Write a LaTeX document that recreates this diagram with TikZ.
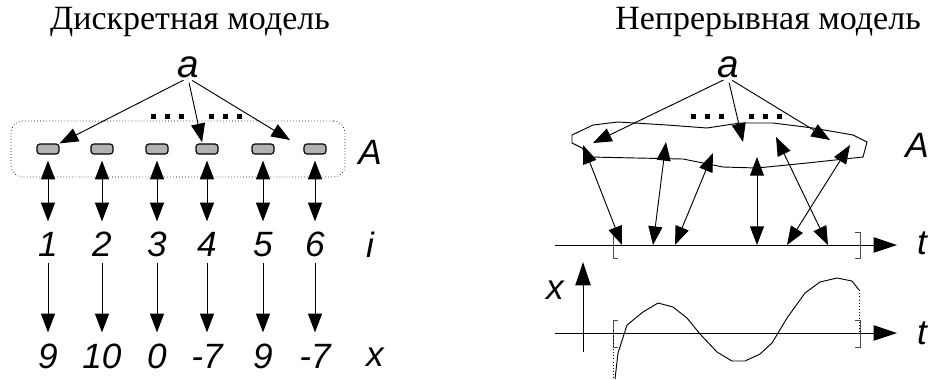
\documentclass[tikz,border=0pt]{standalone}
\usepackage{fontspec}
\setmainfont{Liberation Serif}
\setsansfont{Liberation Sans}
\usetikzlibrary{arrows.meta}

\begin{document}
\begin{tikzpicture}[
        x=0.03cm, y=-0.03cm,
        line width=0.8pt,
        title/.style={font=\fontsize{29}{29}\selectfont},
        lbl/.style={font=\fontsize{30}{30}\selectfont\sffamily\itshape, inner sep=0pt},
        num/.style={lbl, text height=21.5pt, text depth=0pt, anchor=base},
        pill/.style={draw, fill=gray!60, rounded corners=2.5pt, minimum width=0.66cm, minimum height=0.3cm, inner sep=0pt, line width=1pt},
        arr/.style={-{Triangle[length=5.6mm, width=4.2mm]}},
        dbl/.style={{Triangle[length=5.6mm, width=4.2mm]}-{Triangle[length=5.6mm, width=4.2mm]}},
        axis/.style={-{Triangle[length=7mm, width=4.6mm]}},
        brk/.style={line width=0.6pt, gray!60!black},
    ]

    \useasboundingbox (0,0) rectangle (932,379);

    %% Titles
    \node[title] (tdisc) at (190,22) {Дискретная модель};
    \node[title] (tcont) at (768,22) {Непрерывная модель};

    %% Discrete model
    \node[lbl, font=\fontsize{33}{33}\selectfont\sffamily\itshape, anchor=base] (aL) at (188,77) {a};
    \node[draw, dotted, rounded corners=10pt, minimum width=10.02cm, minimum height=1.68cm, line width=0.6pt] (setA) at (178,149) {};
    \node[lbl] (AL) at (370,152) {A};
    \node[lbl] (iL) at (370,245) {i};
    \node[lbl] (xL) at (375,357) {x};

    \foreach \n/\px/\v in {1/48/9, 2/102/10, 3/157/0, 4/207/-7, 5/263/9, 6/315/-7} {
        \node[pill] (p\n) at (\px,149) {};
        \node[num] (i\n) at (\px,256) {\n};
        \node[num] (v\n) at (\px,368) {\v};
        \draw[dbl, shorten <=0.18cm, shorten >=0.27cm] (p\n) -- (i\n);
        \draw[arr, shorten <=0.21cm, shorten >=0.3cm] (i\n) -- (v\n);
    }

    \coordinate (aLt) at (290,140);
    \draw[arr, shorten <=0.15cm] (aL.south) -- (p1.north east);
    \draw[arr, shorten <=0.15cm, shorten >=1pt] (aL.south) -- ([xshift=-4]p4.north);
    \draw[arr, shorten <=0.15cm] (aL.south) -- (aLt);
    \foreach \dx in {153,167,181,211,225,239}
        \fill (\dx-2.5,113.5) rectangle ++(5,5);

    %% Continuous model
    \node[lbl, font=\fontsize{33}{33}\selectfont\sffamily\itshape, anchor=base] (aR) at (728,77) {a};
    \node[lbl] (AR) at (917,145) {A};
    \draw (572,135) -- (593,125) -- (618,122) -- (667,125) -- (707,128) -- (740,123) -- (773,123)
        -- (813,128) -- (853,135) -- (867,142) -- (863,157) -- (807,163) -- (757,168) -- (723,167)
        -- (683,159) -- (590,157) -- (582,148) -- (572,143) -- cycle;
    \foreach \dx in {693,707,721,751,765,779}
        \fill (\dx-2.5,113.5) rectangle ++(5,5);

    \coordinate (c1) at (593,143);
    \coordinate (c2) at (743,142);
    \coordinate (c3) at (830,140);
    \foreach \c in {c1,c2,c3}
        \draw[arr, shorten <=0.15cm] (aR.south) -- (\c);

    %% time axis 1
    \coordinate (t1s) at (555,245);
    \coordinate (t1e) at (897,245);
    \draw[axis] (t1s) -- (t1e);
    \node[lbl] (t1) at (922,243) {t};
    \draw[brk] (618,233) -- (613,233) -- (613,258) -- (618,258);
    \draw[brk] (855,232) -- (860,232) -- (860,258) -- (855,258);

    \foreach \n/\ux/\uy/\lx in {1/583/145/622, 2/666/142/653, 3/713/153/675, 4/757/157/757, 5/776/137/828, 6/850/145/787} {
        \coordinate (u\n) at (\ux,\uy);
        \coordinate (l\n) at (\lx,245);
        \draw[dbl] (u\n) -- (l\n);
    }

    %% time axis 2 and x(t)
    \coordinate (t2s) at (555,333);
    \coordinate (t2e) at (897,333);
    \draw[axis] (t2s) -- (t2e);
    \node[lbl] (t2) at (922,333) {t};
    \coordinate (x0) at (583,352);
    \coordinate (x1) at (583,262);
    \draw[axis] (x0) -- (x1);
    \node[lbl] (xR) at (555,290) {x};
    \draw[brk] (618,320) -- (613,320) -- (613,347) -- (618,347);
    \draw[brk] (855,320) -- (860,320) -- (860,347) -- (855,347);
    \draw[dotted, line width=0.7pt] (613,330) -- (613,379);
    \draw[dotted, line width=0.7pt] (859,290) -- (859,334);
    \draw (615,379) -- (618,353) -- (627,325) -- (643,312) -- (658,303) -- (673,307) -- (687,318)
        -- (700,334) -- (717,352) -- (732,361) -- (745,361) -- (760,354) -- (772,343) -- (787,318)
        -- (805,293) -- (820,282) -- (837,278) -- (852,281) -- (859,290);

\end{tikzpicture}
\end{document}
